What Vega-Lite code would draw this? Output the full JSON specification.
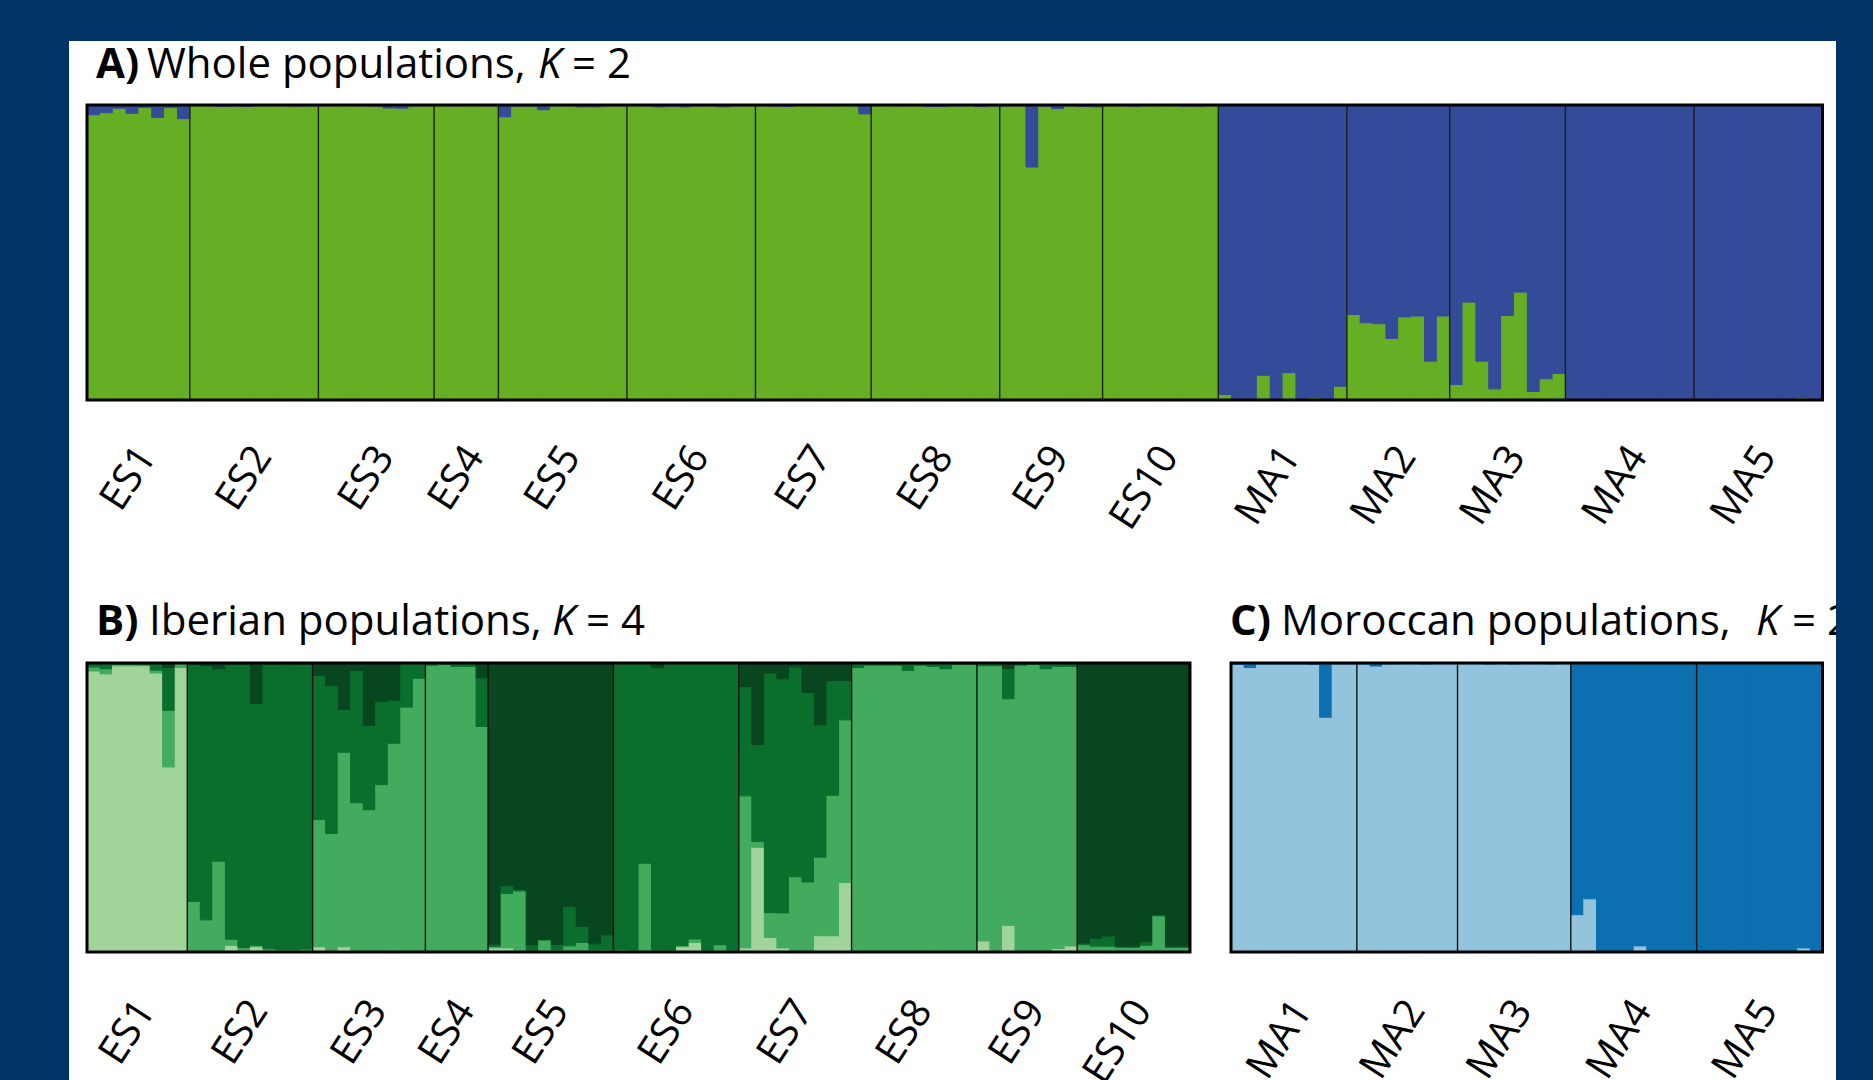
{
  "$schema": "https://vega.github.io/schema/vega-lite/v6.json",
  "background": "#003366",
  "padding": {"left": 69, "top": 41, "right": 37, "bottom": 0},
  "spacing": 0,
  "bounds": "flush",
  "resolve": {"scale": {"color": "independent", "stroke": "independent"}},
  "config": {"view": {"stroke": null}, "font": "Open Sans", "text": {"font": "Open Sans", "color": "#000000"}},
  "datasets": {
    "whole": [
      {"id":0,"p":"ES1","k1":0.967,"k2":0.033},{"id":1,"p":"ES1","k1":0.974,"k2":0.026},{"id":2,"p":"ES1","k1":0.989,"k2":0.011},{"id":3,"p":"ES1","k1":0.972,"k2":0.028},{"id":4,"p":"ES1","k1":0.992,"k2":0.008},{"id":5,"p":"ES1","k1":0.958,"k2":0.042},{"id":6,"p":"ES1","k1":0.992,"k2":0.008},{"id":7,"p":"ES1","k1":0.954,"k2":0.046},
      {"id":8,"p":"ES2","k1":0.998,"k2":0.002},{"id":9,"p":"ES2","k1":0.997,"k2":0.003},{"id":10,"p":"ES2","k1":0.995,"k2":0.005},{"id":11,"p":"ES2","k1":0.996,"k2":0.004},{"id":12,"p":"ES2","k1":0.995,"k2":0.005},{"id":13,"p":"ES2","k1":0.997,"k2":0.003},{"id":14,"p":"ES2","k1":0.998,"k2":0.002},{"id":15,"p":"ES2","k1":0.997,"k2":0.003},{"id":16,"p":"ES2","k1":0.996,"k2":0.004},{"id":17,"p":"ES2","k1":0.997,"k2":0.003},
      {"id":18,"p":"ES3","k1":0.997,"k2":0.003},{"id":19,"p":"ES3","k1":0.998,"k2":0.002},{"id":20,"p":"ES3","k1":0.998,"k2":0.002},{"id":21,"p":"ES3","k1":0.997,"k2":0.003},{"id":22,"p":"ES3","k1":0.996,"k2":0.004},{"id":23,"p":"ES3","k1":0.99,"k2":0.01},{"id":24,"p":"ES3","k1":0.989,"k2":0.011},{"id":25,"p":"ES3","k1":0.997,"k2":0.003},{"id":26,"p":"ES3","k1":0.998,"k2":0.002},
      {"id":27,"p":"ES4","k1":0.998,"k2":0.002},{"id":28,"p":"ES4","k1":0.997,"k2":0.003},{"id":29,"p":"ES4","k1":0.998,"k2":0.002},{"id":30,"p":"ES4","k1":0.998,"k2":0.002},{"id":31,"p":"ES4","k1":0.997,"k2":0.003},
      {"id":32,"p":"ES5","k1":0.96,"k2":0.04},{"id":33,"p":"ES5","k1":0.996,"k2":0.004},{"id":34,"p":"ES5","k1":0.996,"k2":0.004},{"id":35,"p":"ES5","k1":0.984,"k2":0.016},{"id":36,"p":"ES5","k1":0.997,"k2":0.003},{"id":37,"p":"ES5","k1":0.997,"k2":0.003},{"id":38,"p":"ES5","k1":0.994,"k2":0.006},{"id":39,"p":"ES5","k1":0.994,"k2":0.006},{"id":40,"p":"ES5","k1":0.997,"k2":0.003},{"id":41,"p":"ES5","k1":0.997,"k2":0.003},
      {"id":42,"p":"ES6","k1":0.998,"k2":0.002},{"id":43,"p":"ES6","k1":0.997,"k2":0.003},{"id":44,"p":"ES6","k1":0.994,"k2":0.006},{"id":45,"p":"ES6","k1":0.996,"k2":0.004},{"id":46,"p":"ES6","k1":0.994,"k2":0.006},{"id":47,"p":"ES6","k1":0.997,"k2":0.003},{"id":48,"p":"ES6","k1":0.997,"k2":0.003},{"id":49,"p":"ES6","k1":0.994,"k2":0.006},{"id":50,"p":"ES6","k1":0.997,"k2":0.003},{"id":51,"p":"ES6","k1":0.998,"k2":0.002},
      {"id":52,"p":"ES7","k1":0.997,"k2":0.003},{"id":53,"p":"ES7","k1":0.996,"k2":0.004},{"id":54,"p":"ES7","k1":0.995,"k2":0.005},{"id":55,"p":"ES7","k1":0.998,"k2":0.002},{"id":56,"p":"ES7","k1":0.998,"k2":0.002},{"id":57,"p":"ES7","k1":0.997,"k2":0.003},{"id":58,"p":"ES7","k1":0.998,"k2":0.002},{"id":59,"p":"ES7","k1":0.998,"k2":0.002},{"id":60,"p":"ES7","k1":0.97,"k2":0.03},
      {"id":61,"p":"ES8","k1":0.998,"k2":0.002},{"id":62,"p":"ES8","k1":0.998,"k2":0.002},{"id":63,"p":"ES8","k1":0.997,"k2":0.003},{"id":64,"p":"ES8","k1":0.998,"k2":0.002},{"id":65,"p":"ES8","k1":0.995,"k2":0.005},{"id":66,"p":"ES8","k1":0.995,"k2":0.005},{"id":67,"p":"ES8","k1":0.997,"k2":0.003},{"id":68,"p":"ES8","k1":0.998,"k2":0.002},{"id":69,"p":"ES8","k1":0.995,"k2":0.005},{"id":70,"p":"ES8","k1":0.997,"k2":0.003},
      {"id":71,"p":"ES9","k1":0.997,"k2":0.003},{"id":72,"p":"ES9","k1":0.997,"k2":0.003},{"id":73,"p":"ES9","k1":0.79,"k2":0.21},{"id":74,"p":"ES9","k1":0.996,"k2":0.004},{"id":75,"p":"ES9","k1":0.988,"k2":0.012},{"id":76,"p":"ES9","k1":0.997,"k2":0.003},{"id":77,"p":"ES9","k1":0.995,"k2":0.005},{"id":78,"p":"ES9","k1":0.994,"k2":0.006},
      {"id":79,"p":"ES10","k1":0.998,"k2":0.002},{"id":80,"p":"ES10","k1":0.997,"k2":0.003},{"id":81,"p":"ES10","k1":0.996,"k2":0.004},{"id":82,"p":"ES10","k1":0.998,"k2":0.002},{"id":83,"p":"ES10","k1":0.998,"k2":0.002},{"id":84,"p":"ES10","k1":0.998,"k2":0.002},{"id":85,"p":"ES10","k1":0.996,"k2":0.004},{"id":86,"p":"ES10","k1":0.996,"k2":0.004},{"id":87,"p":"ES10","k1":0.998,"k2":0.002},
      {"id":88,"p":"MA1","k1":0.019,"k2":0.981},{"id":89,"p":"MA1","k1":0.002,"k2":0.998},{"id":90,"p":"MA1","k1":0.003,"k2":0.997},{"id":91,"p":"MA1","k1":0.084,"k2":0.916},{"id":92,"p":"MA1","k1":0.005,"k2":0.995},{"id":93,"p":"MA1","k1":0.093,"k2":0.907},{"id":94,"p":"MA1","k1":0.003,"k2":0.997},{"id":95,"p":"MA1","k1":0.008,"k2":0.992},{"id":96,"p":"MA1","k1":0.004,"k2":0.996},{"id":97,"p":"MA1","k1":0.047,"k2":0.953},
      {"id":98,"p":"MA2","k1":0.29,"k2":0.71},{"id":99,"p":"MA2","k1":0.262,"k2":0.738},{"id":100,"p":"MA2","k1":0.259,"k2":0.741},{"id":101,"p":"MA2","k1":0.209,"k2":0.791},{"id":102,"p":"MA2","k1":0.282,"k2":0.718},{"id":103,"p":"MA2","k1":0.285,"k2":0.715},{"id":104,"p":"MA2","k1":0.132,"k2":0.868},{"id":105,"p":"MA2","k1":0.285,"k2":0.715},
      {"id":106,"p":"MA3","k1":0.053,"k2":0.947},{"id":107,"p":"MA3","k1":0.332,"k2":0.668},{"id":108,"p":"MA3","k1":0.132,"k2":0.868},{"id":109,"p":"MA3","k1":0.038,"k2":0.962},{"id":110,"p":"MA3","k1":0.287,"k2":0.713},{"id":111,"p":"MA3","k1":0.366,"k2":0.634},{"id":112,"p":"MA3","k1":0.029,"k2":0.971},{"id":113,"p":"MA3","k1":0.072,"k2":0.928},{"id":114,"p":"MA3","k1":0.09,"k2":0.91},
      {"id":115,"p":"MA4","k1":0.002,"k2":0.998},{"id":116,"p":"MA4","k1":0.001,"k2":0.999},{"id":117,"p":"MA4","k1":0.002,"k2":0.998},{"id":118,"p":"MA4","k1":0.001,"k2":0.999},{"id":119,"p":"MA4","k1":0.002,"k2":0.998},{"id":120,"p":"MA4","k1":0.001,"k2":0.999},{"id":121,"p":"MA4","k1":0.001,"k2":0.999},{"id":122,"p":"MA4","k1":0.002,"k2":0.998},{"id":123,"p":"MA4","k1":0.001,"k2":0.999},{"id":124,"p":"MA4","k1":0.002,"k2":0.998},
      {"id":125,"p":"MA5","k1":0.001,"k2":0.999},{"id":126,"p":"MA5","k1":0.001,"k2":0.999},{"id":127,"p":"MA5","k1":0.002,"k2":0.998},{"id":128,"p":"MA5","k1":0.001,"k2":0.999},{"id":129,"p":"MA5","k1":0.001,"k2":0.999},{"id":130,"p":"MA5","k1":0.001,"k2":0.999},{"id":131,"p":"MA5","k1":0.002,"k2":0.998},{"id":132,"p":"MA5","k1":0.001,"k2":0.999},{"id":133,"p":"MA5","k1":0.007,"k2":0.993},{"id":134,"p":"MA5","k1":0.002,"k2":0.998}
    ],
    "iberian": [
      {"id":0,"p":"ES1","c1":0.972,"c2":0.014,"c3":0.014,"c4":0},{"id":1,"p":"ES1","c1":0.962,"c2":0.018,"c3":0.02,"c4":0},{"id":2,"p":"ES1","c1":0.99,"c2":0.005,"c3":0.005,"c4":0},{"id":3,"p":"ES1","c1":0.99,"c2":0.005,"c3":0.005,"c4":0},{"id":4,"p":"ES1","c1":0.99,"c2":0.004,"c3":0.006,"c4":0},{"id":5,"p":"ES1","c1":0.965,"c2":0.01,"c3":0.025,"c4":0},{"id":6,"p":"ES1","c1":0.64,"c2":0.196,"c3":0.148,"c4":0.016},{"id":7,"p":"ES1","c1":0.984,"c2":0.016,"c3":0,"c4":0},
      {"id":8,"p":"ES2","c1":0.005,"c2":0.17,"c3":0.82,"c4":0.005},{"id":9,"p":"ES2","c1":0.005,"c2":0.106,"c3":0.879,"c4":0.01},{"id":10,"p":"ES2","c1":0.005,"c2":0.309,"c3":0.666,"c4":0.02},{"id":11,"p":"ES2","c1":0.023,"c2":0.021,"c3":0.951,"c4":0.005},{"id":12,"p":"ES2","c1":0.005,"c2":0.01,"c3":0.98,"c4":0.005},{"id":13,"p":"ES2","c1":0.018,"c2":0.005,"c3":0.836,"c4":0.141},{"id":14,"p":"ES2","c1":0.006,"c2":0.005,"c3":0.984,"c4":0.005},{"id":15,"p":"ES2","c1":0.004,"c2":0.004,"c3":0.988,"c4":0.004},{"id":16,"p":"ES2","c1":0.004,"c2":0.004,"c3":0.988,"c4":0.004},{"id":17,"p":"ES2","c1":0.005,"c2":0.005,"c3":0.985,"c4":0.005},
      {"id":18,"p":"ES3","c1":0.018,"c2":0.44,"c3":0.499,"c4":0.043},{"id":19,"p":"ES3","c1":0,"c2":0.41,"c3":0.511,"c4":0.079},{"id":20,"p":"ES3","c1":0.018,"c2":0.673,"c3":0.148,"c4":0.161},{"id":21,"p":"ES3","c1":0.002,"c2":0.514,"c3":0.458,"c4":0.026},{"id":22,"p":"ES3","c1":0.002,"c2":0.49,"c3":0.292,"c4":0.216},{"id":23,"p":"ES3","c1":0.002,"c2":0.577,"c3":0.287,"c4":0.134},{"id":24,"p":"ES3","c1":0.006,"c2":0.716,"c3":0.149,"c4":0.129},{"id":25,"p":"ES3","c1":0.002,"c2":0.845,"c3":0.153,"c4":0},{"id":26,"p":"ES3","c1":0.002,"c2":0.945,"c3":0.053,"c4":0},
      {"id":27,"p":"ES4","c1":0.002,"c2":0.99,"c3":0.008,"c4":0},{"id":28,"p":"ES4","c1":0.002,"c2":0.993,"c3":0.005,"c4":0},{"id":29,"p":"ES4","c1":0.002,"c2":0.986,"c3":0.012,"c4":0},{"id":30,"p":"ES4","c1":0.002,"c2":0.986,"c3":0.012,"c4":0},{"id":31,"p":"ES4","c1":0.002,"c2":0.778,"c3":0.168,"c4":0.052},
      {"id":32,"p":"ES5","c1":0.014,"c2":0.005,"c3":0.008,"c4":0.973},{"id":33,"p":"ES5","c1":0.014,"c2":0.188,"c3":0.027,"c4":0.771},{"id":34,"p":"ES5","c1":0.006,"c2":0.205,"c3":0.006,"c4":0.783},{"id":35,"p":"ES5","c1":0.003,"c2":0.003,"c3":0.018,"c4":0.976},{"id":36,"p":"ES5","c1":0.006,"c2":0.035,"c3":0.003,"c4":0.956},{"id":37,"p":"ES5","c1":0.005,"c2":0.003,"c3":0.018,"c4":0.974},{"id":38,"p":"ES5","c1":0.003,"c2":0.018,"c3":0.137,"c4":0.842},{"id":39,"p":"ES5","c1":0.003,"c2":0.03,"c3":0.055,"c4":0.912},{"id":40,"p":"ES5","c1":0.003,"c2":0.005,"c3":0.02,"c4":0.972},{"id":41,"p":"ES5","c1":0.003,"c2":0.006,"c3":0.05,"c4":0.941},
      {"id":42,"p":"ES6","c1":0.003,"c2":0.006,"c3":0.991,"c4":0},{"id":43,"p":"ES6","c1":0.002,"c2":0.005,"c3":0.993,"c4":0},{"id":44,"p":"ES6","c1":0.002,"c2":0.305,"c3":0.693,"c4":0},{"id":45,"p":"ES6","c1":0.002,"c2":0.005,"c3":0.977,"c4":0.016},{"id":46,"p":"ES6","c1":0.002,"c2":0.005,"c3":0.993,"c4":0},{"id":47,"p":"ES6","c1":0.018,"c2":0.004,"c3":0.978,"c4":0},{"id":48,"p":"ES6","c1":0.033,"c2":0.012,"c3":0.955,"c4":0},{"id":49,"p":"ES6","c1":0.002,"c2":0.005,"c3":0.993,"c4":0},{"id":50,"p":"ES6","c1":0.002,"c2":0.023,"c3":0.975,"c4":0},{"id":51,"p":"ES6","c1":0.002,"c2":0.005,"c3":0.993,"c4":0},
      {"id":52,"p":"ES7","c1":0.014,"c2":0.526,"c3":0.378,"c4":0.082},{"id":53,"p":"ES7","c1":0.362,"c2":0.02,"c3":0.336,"c4":0.282},{"id":54,"p":"ES7","c1":0.05,"c2":0.086,"c3":0.829,"c4":0.035},{"id":55,"p":"ES7","c1":0.014,"c2":0.121,"c3":0.81,"c4":0.055},{"id":56,"p":"ES7","c1":0.002,"c2":0.258,"c3":0.726,"c4":0.014},{"id":57,"p":"ES7","c1":0.002,"c2":0.24,"c3":0.656,"c4":0.102},{"id":58,"p":"ES7","c1":0.056,"c2":0.272,"c3":0.458,"c4":0.214},{"id":59,"p":"ES7","c1":0.056,"c2":0.486,"c3":0.397,"c4":0.061},{"id":60,"p":"ES7","c1":0.24,"c2":0.563,"c3":0.136,"c4":0.061},
      {"id":61,"p":"ES8","c1":0.004,"c2":0.98,"c3":0.016,"c4":0},{"id":62,"p":"ES8","c1":0.003,"c2":0.989,"c3":0.008,"c4":0},{"id":63,"p":"ES8","c1":0.003,"c2":0.989,"c3":0.008,"c4":0},{"id":64,"p":"ES8","c1":0.003,"c2":0.989,"c3":0.008,"c4":0},{"id":65,"p":"ES8","c1":0.003,"c2":0.971,"c3":0.026,"c4":0},{"id":66,"p":"ES8","c1":0.003,"c2":0.989,"c3":0.008,"c4":0},{"id":67,"p":"ES8","c1":0.004,"c2":0.984,"c3":0.012,"c4":0},{"id":68,"p":"ES8","c1":0.005,"c2":0.975,"c3":0.02,"c4":0},{"id":69,"p":"ES8","c1":0.005,"c2":0.99,"c3":0.005,"c4":0},{"id":70,"p":"ES8","c1":0.005,"c2":0.99,"c3":0.005,"c4":0},
      {"id":71,"p":"ES9","c1":0.038,"c2":0.952,"c3":0.01,"c4":0},{"id":72,"p":"ES9","c1":0.003,"c2":0.987,"c3":0.01,"c4":0},{"id":73,"p":"ES9","c1":0.092,"c2":0.784,"c3":0.105,"c4":0.019},{"id":74,"p":"ES9","c1":0.003,"c2":0.989,"c3":0.008,"c4":0},{"id":75,"p":"ES9","c1":0.003,"c2":0.992,"c3":0.005,"c4":0},{"id":76,"p":"ES9","c1":0.003,"c2":0.977,"c3":0.02,"c4":0},{"id":77,"p":"ES9","c1":0.012,"c2":0.976,"c3":0.012,"c4":0},{"id":78,"p":"ES9","c1":0.021,"c2":0.967,"c3":0.012,"c4":0},
      {"id":79,"p":"ES10","c1":0.002,"c2":0.023,"c3":0.006,"c4":0.969},{"id":80,"p":"ES10","c1":0.002,"c2":0.018,"c3":0.027,"c4":0.953},{"id":81,"p":"ES10","c1":0.002,"c2":0.018,"c3":0.035,"c4":0.945},{"id":82,"p":"ES10","c1":0.002,"c2":0.014,"c3":0.004,"c4":0.98},{"id":83,"p":"ES10","c1":0.002,"c2":0.014,"c3":0.004,"c4":0.98},{"id":84,"p":"ES10","c1":0.002,"c2":0.021,"c3":0.012,"c4":0.965},{"id":85,"p":"ES10","c1":0.002,"c2":0.123,"c3":0.004,"c4":0.871},{"id":86,"p":"ES10","c1":0.002,"c2":0.014,"c3":0.004,"c4":0.98},{"id":87,"p":"ES10","c1":0.002,"c2":0.014,"c3":0.004,"c4":0.98}
    ],
    "moroccan": [
      {"id":0,"p":"MA1","k1":0.995,"k2":0.005},{"id":1,"p":"MA1","k1":0.984,"k2":0.016},{"id":2,"p":"MA1","k1":0.996,"k2":0.004},{"id":3,"p":"MA1","k1":0.996,"k2":0.004},{"id":4,"p":"MA1","k1":0.996,"k2":0.004},{"id":5,"p":"MA1","k1":0.996,"k2":0.004},{"id":6,"p":"MA1","k1":0.995,"k2":0.005},{"id":7,"p":"MA1","k1":0.812,"k2":0.188},{"id":8,"p":"MA1","k1":0.996,"k2":0.004},{"id":9,"p":"MA1","k1":0.996,"k2":0.004},
      {"id":10,"p":"MA2","k1":0.996,"k2":0.004},{"id":11,"p":"MA2","k1":0.989,"k2":0.011},{"id":12,"p":"MA2","k1":0.996,"k2":0.004},{"id":13,"p":"MA2","k1":0.997,"k2":0.003},{"id":14,"p":"MA2","k1":0.997,"k2":0.003},{"id":15,"p":"MA2","k1":0.996,"k2":0.004},{"id":16,"p":"MA2","k1":0.997,"k2":0.003},{"id":17,"p":"MA2","k1":0.997,"k2":0.003},
      {"id":18,"p":"MA3","k1":0.997,"k2":0.003},{"id":19,"p":"MA3","k1":0.997,"k2":0.003},{"id":20,"p":"MA3","k1":0.996,"k2":0.004},{"id":21,"p":"MA3","k1":0.997,"k2":0.003},{"id":22,"p":"MA3","k1":0.996,"k2":0.004},{"id":23,"p":"MA3","k1":0.997,"k2":0.003},{"id":24,"p":"MA3","k1":0.997,"k2":0.003},{"id":25,"p":"MA3","k1":0.996,"k2":0.004},{"id":26,"p":"MA3","k1":0.997,"k2":0.003},
      {"id":27,"p":"MA4","k1":0.129,"k2":0.871},{"id":28,"p":"MA4","k1":0.184,"k2":0.816},{"id":29,"p":"MA4","k1":0.003,"k2":0.997},{"id":30,"p":"MA4","k1":0.002,"k2":0.998},{"id":31,"p":"MA4","k1":0.002,"k2":0.998},{"id":32,"p":"MA4","k1":0.021,"k2":0.979},{"id":33,"p":"MA4","k1":0.002,"k2":0.998},{"id":34,"p":"MA4","k1":0.002,"k2":0.998},{"id":35,"p":"MA4","k1":0.002,"k2":0.998},{"id":36,"p":"MA4","k1":0.002,"k2":0.998},
      {"id":37,"p":"MA5","k1":0.002,"k2":0.998},{"id":38,"p":"MA5","k1":0.002,"k2":0.998},{"id":39,"p":"MA5","k1":0.002,"k2":0.998},{"id":40,"p":"MA5","k1":0.002,"k2":0.998},{"id":41,"p":"MA5","k1":0.002,"k2":0.998},{"id":42,"p":"MA5","k1":0.002,"k2":0.998},{"id":43,"p":"MA5","k1":0.002,"k2":0.998},{"id":44,"p":"MA5","k1":0.002,"k2":0.998},{"id":45,"p":"MA5","k1":0.014,"k2":0.986},{"id":46,"p":"MA5","k1":0.004,"k2":0.996}
    ]
  },
  "vconcat": [
    {
      "width": 1767,
      "height": 519,
      "view": {"fill": "white", "stroke": null},
      "data": {"name": "whole"},
      "layer": [
        {
          "transform": [{"fold": ["k1", "k2"], "as": ["cluster", "q"]}],
          "mark": {"type": "bar", "binSpacing": 0, "strokeWidth": 1},
          "encoding": {
            "x": {"field": "id", "type": "quantitative", "bin": {"step": 1, "extent": [0, 135]}, "scale": {"domain": [-1.4, 136.05], "nice": false, "zero": false}, "axis": null},
            "y": {"field": "q", "type": "quantitative", "stack": "normalize", "scale": {"domain": [-0.542, 1.217], "nice": false, "zero": false}, "axis": null},
            "color": {"field": "cluster", "type": "nominal", "scale": {"domain": ["k1", "k2"], "range": ["#66ae23", "#344b9a"]}, "legend": null},
            "stroke": {"field": "cluster", "type": "nominal", "scale": {"domain": ["k1", "k2"], "range": ["#66ae23", "#344b9a"]}, "legend": null},
            "order": {"field": "cluster", "sort": "ascending"}
          }
        },
        {
          "transform": [{"aggregate": [{"op": "min", "field": "id", "as": "start"}], "groupby": ["p"]}, {"filter": "datum.start > 0"}],
          "mark": {"type": "rule", "color": "#1b2212", "strokeWidth": 1.4},
          "encoding": {"x": {"field": "start", "type": "quantitative"}, "y": {"datum": 0}, "y2": {"datum": 1}}
        },
        {
          "data": {"values": [{}]},
          "mark": {"type": "rect", "filled": false, "stroke": "#000000", "strokeWidth": 3},
          "encoding": {"x": {"datum": 0}, "x2": {"datum": 135}, "y": {"datum": 0}, "y2": {"datum": 1}}
        },
        {
          "transform": [{"aggregate": [{"op": "mean", "field": "id", "as": "m"}], "groupby": ["p"]}],
          "mark": {"type": "text", "angle": 303, "align": "right", "baseline": "middle", "dx": 8, "dy": 13, "fontSize": 40},
          "encoding": {"x": {"field": "m", "type": "quantitative"}, "y": {"datum": -0.169}, "text": {"field": "p"}}
        },
        {
          "data": {"values": [{}]},
          "mark": {"type": "text", "text": "A)", "fontWeight": "bold", "fontSize": 42, "align": "left", "baseline": "alphabetic"},
          "encoding": {"x": {"datum": 0.7}, "y": {"datum": 1.092}}
        },
        {
          "data": {"values": [{}]},
          "mark": {"type": "text", "text": "Whole populations,", "fontSize": 42, "align": "left", "baseline": "alphabetic", "dx": 51},
          "encoding": {"x": {"datum": 0.7}, "y": {"datum": 1.092}}
        },
        {
          "data": {"values": [{}]},
          "mark": {"type": "text", "text": "K", "fontStyle": "italic", "fontSize": 42, "align": "left", "baseline": "alphabetic", "dx": 442},
          "encoding": {"x": {"datum": 0.7}, "y": {"datum": 1.092}}
        },
        {
          "data": {"values": [{}]},
          "mark": {"type": "text", "text": "= 2", "fontSize": 42, "align": "left", "baseline": "alphabetic", "dx": 476},
          "encoding": {"x": {"datum": 0.7}, "y": {"datum": 1.092}}
        }
      ]
    },
    {
      "hconcat": [
        {
          "width": 1141,
          "height": 520,
          "view": {"fill": "white", "stroke": null},
          "data": {"name": "iberian"},
          "layer": [
            {
              "transform": [{"fold": ["c1", "c2", "c3", "c4"], "as": ["cluster", "q"]}],
              "mark": {"type": "bar", "binSpacing": 0, "strokeWidth": 1},
              "encoding": {
                "x": {"field": "id", "type": "quantitative", "bin": {"step": 1, "extent": [0, 88]}, "scale": {"domain": [-1.436, 89.596], "nice": false, "zero": false}, "axis": null},
                "y": {"field": "q", "type": "quantitative", "stack": "normalize", "scale": {"domain": [-0.443, 1.356], "nice": false, "zero": false}, "axis": null},
                "color": {"field": "cluster", "type": "nominal", "scale": {"domain": ["c1", "c2", "c3", "c4"], "range": ["#a1d49a", "#42ab5d", "#0a6e2d", "#08461f"]}, "legend": null},
                "stroke": {"field": "cluster", "type": "nominal", "scale": {"domain": ["c1", "c2", "c3", "c4"], "range": ["#a1d49a", "#42ab5d", "#0a6e2d", "#08461f"]}, "legend": null},
                "order": {"field": "cluster", "sort": "ascending"}
              }
            },
            {
              "transform": [{"aggregate": [{"op": "min", "field": "id", "as": "start"}], "groupby": ["p"]}, {"filter": "datum.start > 0"}],
              "mark": {"type": "rule", "color": "#111111", "strokeWidth": 1.4},
              "encoding": {"x": {"field": "start", "type": "quantitative"}, "y": {"datum": 0}, "y2": {"datum": 1}}
            },
            {
              "data": {"values": [{}]},
              "mark": {"type": "rect", "filled": false, "stroke": "#000000", "strokeWidth": 3},
              "encoding": {"x": {"datum": 0}, "x2": {"datum": 88}, "y": {"datum": 0}, "y2": {"datum": 1}}
            },
            {
              "transform": [{"aggregate": [{"op": "mean", "field": "id", "as": "m"}], "groupby": ["p"]}],
              "mark": {"type": "text", "angle": 303, "align": "right", "baseline": "middle", "dx": 8, "dy": 13, "fontSize": 40, "clip": true},
              "encoding": {"x": {"field": "m", "type": "quantitative"}, "y": {"datum": -0.18}, "text": {"field": "p"}}
            },
            {
              "data": {"values": [{}]},
              "mark": {"type": "text", "text": "B)", "fontWeight": "bold", "fontSize": 42, "align": "left", "baseline": "alphabetic"},
              "encoding": {"x": {"datum": 0.72}, "y": {"datum": 1.097}}
            },
            {
              "data": {"values": [{}]},
              "mark": {"type": "text", "text": "Iberian populations,", "fontSize": 42, "align": "left", "baseline": "alphabetic", "dx": 53},
              "encoding": {"x": {"datum": 0.72}, "y": {"datum": 1.097}}
            },
            {
              "data": {"values": [{}]},
              "mark": {"type": "text", "text": "K", "fontStyle": "italic", "fontSize": 42, "align": "left", "baseline": "alphabetic", "dx": 456},
              "encoding": {"x": {"datum": 0.72}, "y": {"datum": 1.097}}
            },
            {
              "data": {"values": [{}]},
              "mark": {"type": "text", "text": "= 4", "fontSize": 42, "align": "left", "baseline": "alphabetic", "dx": 490},
              "encoding": {"x": {"datum": 0.72}, "y": {"datum": 1.097}}
            }
          ]
        },
        {
          "width": 626,
          "height": 520,
          "view": {"fill": "white", "stroke": null},
          "data": {"name": "moroccan"},
          "layer": [
            {
              "transform": [{"fold": ["k1", "k2"], "as": ["cluster", "q"]}],
              "mark": {"type": "bar", "binSpacing": 0, "strokeWidth": 1},
              "encoding": {
                "x": {"field": "id", "type": "quantitative", "bin": {"step": 1, "extent": [0, 47]}, "scale": {"domain": [-1.669, 48.073], "nice": false, "zero": false}, "axis": null},
                "y": {"field": "q", "type": "quantitative", "stack": "normalize", "scale": {"domain": [-0.443, 1.356], "nice": false, "zero": false}, "axis": null},
                "color": {"field": "cluster", "type": "nominal", "scale": {"domain": ["k1", "k2"], "range": ["#92c4dd", "#0c70b0"]}, "legend": null},
                "stroke": {"field": "cluster", "type": "nominal", "scale": {"domain": ["k1", "k2"], "range": ["#92c4dd", "#0c70b0"]}, "legend": null},
                "order": {"field": "cluster", "sort": "ascending"}
              }
            },
            {
              "transform": [{"aggregate": [{"op": "min", "field": "id", "as": "start"}], "groupby": ["p"]}, {"filter": "datum.start > 0"}],
              "mark": {"type": "rule", "color": "#111111", "strokeWidth": 1.4},
              "encoding": {"x": {"field": "start", "type": "quantitative"}, "y": {"datum": 0}, "y2": {"datum": 1}}
            },
            {
              "data": {"values": [{}]},
              "mark": {"type": "rect", "filled": false, "stroke": "#000000", "strokeWidth": 3},
              "encoding": {"x": {"datum": 0}, "x2": {"datum": 47}, "y": {"datum": 0}, "y2": {"datum": 1}}
            },
            {
              "transform": [{"aggregate": [{"op": "mean", "field": "id", "as": "m"}], "groupby": ["p"]}],
              "mark": {"type": "text", "angle": 303, "align": "right", "baseline": "middle", "dx": 8, "dy": 13, "fontSize": 40, "clip": true},
              "encoding": {"x": {"field": "m", "type": "quantitative"}, "y": {"datum": -0.18}, "text": {"field": "p"}}
            },
            {
              "data": {"values": [{}]},
              "mark": {"type": "text", "text": "C)", "fontWeight": "bold", "fontSize": 42, "align": "left", "baseline": "alphabetic", "clip": true},
              "encoding": {"x": {"datum": -0.08}, "y": {"datum": 1.097}}
            },
            {
              "data": {"values": [{}]},
              "mark": {"type": "text", "text": "Moroccan populations,", "fontSize": 42, "align": "left", "baseline": "alphabetic", "dx": 51, "clip": true},
              "encoding": {"x": {"datum": -0.08}, "y": {"datum": 1.097}}
            },
            {
              "data": {"values": [{}]},
              "mark": {"type": "text", "text": "K", "fontStyle": "italic", "fontSize": 42, "align": "left", "baseline": "alphabetic", "dx": 526, "clip": true},
              "encoding": {"x": {"datum": -0.08}, "y": {"datum": 1.097}}
            },
            {
              "data": {"values": [{}]},
              "mark": {"type": "text", "text": "= 2", "fontSize": 42, "align": "left", "baseline": "alphabetic", "dx": 562, "clip": true},
              "encoding": {"x": {"datum": -0.08}, "y": {"datum": 1.097}}
            }
          ]
        }
      ],
      "spacing": 0,
      "bounds": "flush",
      "resolve": {"scale": {"color": "independent", "stroke": "independent"}}
    }
  ]
}
